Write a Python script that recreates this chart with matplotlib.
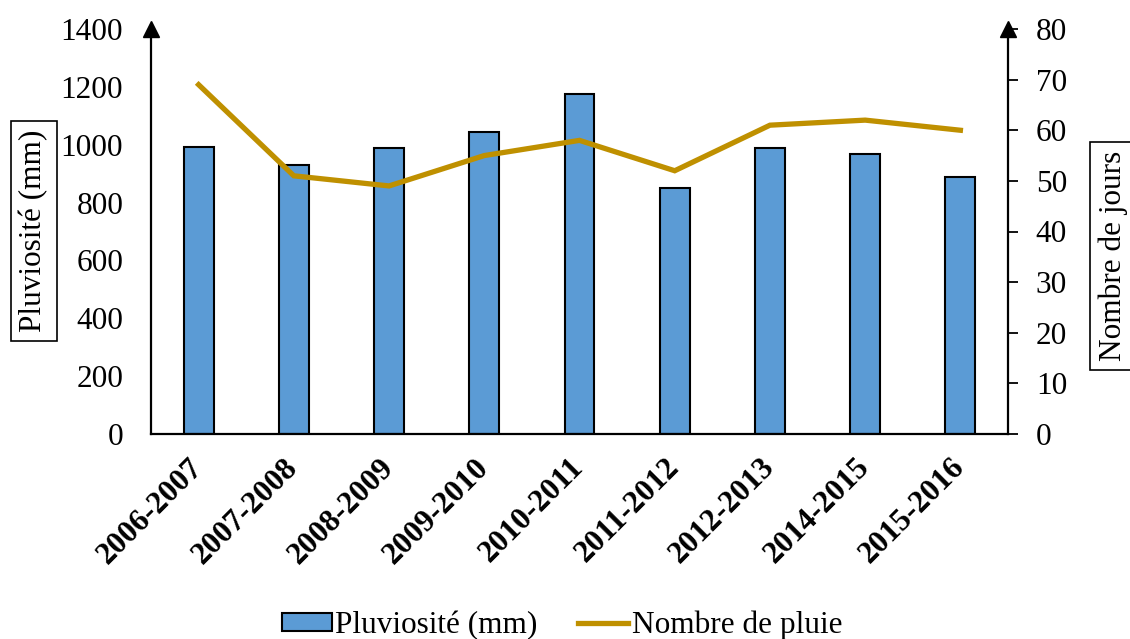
import matplotlib
matplotlib.use("Agg")
import matplotlib.pyplot as plt
from matplotlib.lines import Line2D
from matplotlib.patches import Patch

saisons = ["2006-2007", "2007-2008", "2008-2009", "2009-2010", "2010-2011",
           "2011-2012", "2012-2013", "2014-2015", "2015-2016"]
pluviosite_mm = [992, 930, 989, 1043, 1175, 849, 990, 968, 888]
nombre_pluie = [69, 51, 49, 55, 58, 52, 61, 62, 60]

left_ticks = [0, 200, 400, 600, 800, 1000, 1200, 1400]
right_ticks = [0, 10, 20, 30, 40, 50, 60, 70, 80]

bar_color = "#5B9BD5"
line_color = "#BF9000"
fs = 22.5

plt.rcParams["font.family"] = ["Liberation Serif", "DejaVu Serif"]

fig = plt.figure(figsize=(11.3, 6.39), dpi=100)
ax = fig.add_axes([151 / 1130, 1 - 434 / 639, (1008 - 151) / 1130, 405 / 639])
ax2 = ax.twinx()

x = list(range(len(saisons)))
ax.bar(x, pluviosite_mm, width=0.315, color=bar_color, edgecolor="black",
       linewidth=1.5, zorder=2)
ax2.plot(x, nombre_pluie, color=line_color, linewidth=3.8,
         solid_joinstyle="miter", zorder=3)

ax.set_xlim(-0.5, len(saisons) - 0.5)
ax.set_ylim(0, 1400)
ax2.set_ylim(0, 80)

ax.set_yticks(left_ticks)
ax.set_yticklabels([str(v) for v in left_ticks], fontsize=fs)
ax.tick_params(axis="y", length=0, pad=20)
ax2.set_yticks(right_ticks)
ax2.set_yticklabels([str(v) for v in right_ticks], fontsize=fs)
ax2.tick_params(axis="y", length=7, width=1.3, pad=13, direction="out")

ax.set_xticks(x)
ax.set_xticklabels(saisons, fontsize=fs, fontweight="bold", rotation=45,
                   ha="right", va="center", rotation_mode="anchor")
ax.tick_params(axis="x", length=0, pad=21)

for a in (ax, ax2):
    a.spines["top"].set_visible(False)
    a.set_facecolor("none")
ax.spines["right"].set_visible(False)
ax2.spines["left"].set_visible(False)
ax2.spines["bottom"].set_visible(False)
ax.spines["left"].set_linewidth(1.6)
ax.spines["bottom"].set_linewidth(1.6)
ax2.spines["right"].set_linewidth(1.6)

# arrow heads on both vertical axes
ax.plot([0], [1.0], marker="^", markersize=11, color="black",
        transform=ax.transAxes, clip_on=False, zorder=5)
ax.plot([1], [1.0], marker="^", markersize=11, color="black",
        transform=ax.transAxes, clip_on=False, zorder=5)

box = dict(boxstyle="square,pad=0.27", facecolor="white", edgecolor="black",
           linewidth=1.2)
fig.text(34 / 1130, 1 - 231 / 639, "Pluviosité (mm)", rotation=90,
         fontsize=fs, ha="center", va="center", bbox=box)
fig.text(1113 / 1130, 1 - 256 / 639, "Nombre de jours", rotation=90,
         fontsize=fs, ha="center", va="center", bbox=box)

handles = [Patch(facecolor=bar_color, edgecolor="black", linewidth=1.5),
           Line2D([0], [0], color=line_color, linewidth=3.8)]
fig.legend(handles, ["Pluviosité (mm)", "Nombre de pluie"], ncol=2,
           loc="center", bbox_to_anchor=(562 / 1130, 1 - 625 / 639),
           frameon=False, fontsize=fs, handlelength=1.6, handleheight=0.5,
           handletextpad=0.12, columnspacing=1.3, borderpad=0)

fig.savefig("out.png", dpi=100)
